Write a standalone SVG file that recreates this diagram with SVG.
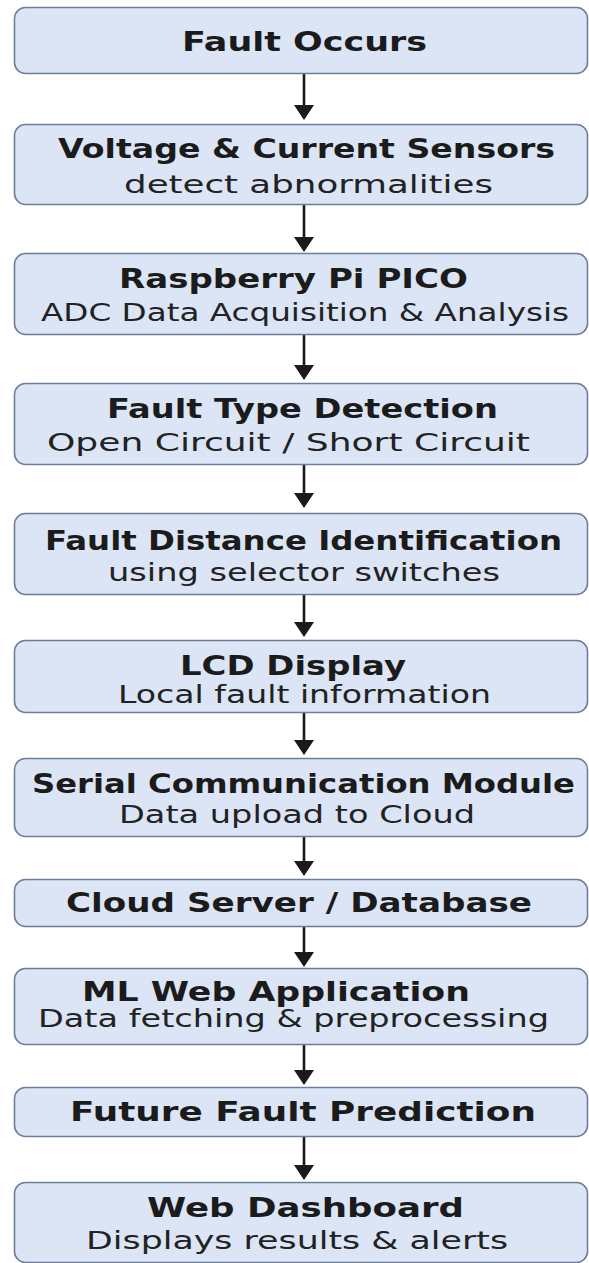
<svg xmlns="http://www.w3.org/2000/svg" width="589" height="1263" viewBox="0 0 589 1263">
  <style>
    .box { fill: #dbe5f5; stroke: #6e7e98; stroke-width: 1.6; }
    .title { font-family: "DejaVu Sans", "Liberation Sans", sans-serif; font-weight: bold; font-size: 27px; fill: #1b1b1b; }
    .sub { font-family: "DejaVu Sans", "Liberation Sans", sans-serif; font-size: 24px; fill: #222222; }
    .flow { stroke: #1a1a1a; stroke-width: 2.6; fill: none; marker-end: url(#head); }
  </style>
  <defs>
    <marker id="head" markerUnits="userSpaceOnUse" viewBox="0 0 15 20" refX="11" refY="10" markerWidth="15" markerHeight="20" orient="auto">
      <path d="M0,0 L15,10 L0,20 z" fill="#1a1a1a"/>
    </marker>
  </defs>
  <rect width="589" height="1263" fill="#ffffff"/>

  <g id="connectors">
    <line class="flow" x1="304" y1="74" x2="304" y2="116"/>
    <line class="flow" x1="304" y1="205" x2="304" y2="248"/>
    <line class="flow" x1="304" y1="335" x2="304" y2="376"/>
    <line class="flow" x1="304" y1="465" x2="304" y2="504"/>
    <line class="flow" x1="304" y1="595" x2="304" y2="633"/>
    <line class="flow" x1="304" y1="713" x2="304" y2="751"/>
    <line class="flow" x1="304" y1="837" x2="304" y2="872"/>
    <line class="flow" x1="304" y1="927" x2="304" y2="963"/>
    <line class="flow" x1="304" y1="1045" x2="304" y2="1081"/>
    <line class="flow" x1="304" y1="1137" x2="304" y2="1176"/>
  </g>

  <!-- labels use a 1.2x horizontal stretch; textLength pins each line's width -->
  <g id="fault-occurs">
    <rect class="box" x="14.5" y="7.5" width="573" height="66" rx="11"/>
    <text class="title" transform="matrix(1.2 0 0 1 182 0)" x="0" y="51" textLength="204.2" lengthAdjust="spacingAndGlyphs">Fault Occurs</text>
  </g>

  <g id="sensors">
    <rect class="box" x="14.5" y="124.5" width="573" height="80" rx="11"/>
    <text class="title" transform="matrix(1.2 0 0 1 58 0)" x="0" y="158" textLength="414.2" lengthAdjust="spacingAndGlyphs">Voltage &amp; Current Sensors</text>
    <text class="sub" transform="matrix(1.2 0 0 1 124 0)" x="0" y="193" textLength="307.5" lengthAdjust="spacingAndGlyphs">detect abnormalities</text>
  </g>

  <g id="pico">
    <rect class="box" x="14.5" y="253.5" width="573" height="81" rx="11"/>
    <text class="title" transform="matrix(1.2 0 0 1 119 0)" x="0" y="288" textLength="290.8" lengthAdjust="spacingAndGlyphs">Raspberry Pi PICO</text>
    <text class="sub" transform="matrix(1.2 0 0 1 41 0)" x="0" y="321" textLength="440" lengthAdjust="spacingAndGlyphs">ADC Data Acquisition &amp; Analysis</text>
  </g>

  <g id="fault-type">
    <rect class="box" x="14.5" y="383.5" width="573" height="81" rx="11"/>
    <text class="title" transform="matrix(1.2 0 0 1 107 0)" x="0" y="418" textLength="325.8" lengthAdjust="spacingAndGlyphs">Fault Type Detection</text>
    <text class="sub" transform="matrix(1.2 0 0 1 47 0)" x="0" y="451" textLength="402.5" lengthAdjust="spacingAndGlyphs">Open Circuit / Short Circuit</text>
  </g>

  <g id="fault-distance">
    <rect class="box" x="14.5" y="513.5" width="573" height="81" rx="11"/>
    <text class="title" transform="matrix(1.2 0 0 1 45 0)" x="0" y="550" textLength="430.8" lengthAdjust="spacingAndGlyphs">Fault Distance Identification</text>
    <text class="sub" transform="matrix(1.2 0 0 1 108 0)" x="0" y="581" textLength="326.7" lengthAdjust="spacingAndGlyphs">using selector switches</text>
  </g>

  <g id="lcd">
    <rect class="box" x="14.5" y="640.5" width="573" height="72" rx="11"/>
    <text class="title" transform="matrix(1.2 0 0 1 180 0)" x="0" y="675" textLength="188.3" lengthAdjust="spacingAndGlyphs">LCD Display</text>
    <text class="sub" transform="matrix(1.2 0 0 1 118 0)" x="0" y="703" textLength="310.8" lengthAdjust="spacingAndGlyphs">Local fault information</text>
  </g>

  <g id="serial">
    <rect class="box" x="14.5" y="758.5" width="573" height="78" rx="11"/>
    <text class="title" transform="matrix(1.2 0 0 1 32 0)" x="0" y="793" textLength="452.5" lengthAdjust="spacingAndGlyphs">Serial Communication Module</text>
    <text class="sub" transform="matrix(1.2 0 0 1 119 0)" x="0" y="823" textLength="296.7" lengthAdjust="spacingAndGlyphs">Data upload to Cloud</text>
  </g>

  <g id="cloud">
    <rect class="box" x="14.5" y="879.5" width="573" height="47" rx="11"/>
    <text class="title" transform="matrix(1.2 0 0 1 66 0)" x="0" y="912" textLength="388.3" lengthAdjust="spacingAndGlyphs">Cloud Server / Database</text>
  </g>

  <g id="ml-app">
    <rect class="box" x="14.5" y="968.5" width="573" height="76" rx="11"/>
    <text class="title" transform="matrix(1.2 0 0 1 82 0)" x="0" y="1001" textLength="323.3" lengthAdjust="spacingAndGlyphs">ML Web Application</text>
    <text class="sub" transform="matrix(1.2 0 0 1 38 0)" x="0" y="1027" textLength="425.8" lengthAdjust="spacingAndGlyphs">Data fetching &amp; preprocessing</text>
  </g>

  <g id="prediction">
    <rect class="box" x="14.5" y="1087.5" width="573" height="49" rx="11"/>
    <text class="title" transform="matrix(1.2 0 0 1 70 0)" x="0" y="1121" textLength="388.3" lengthAdjust="spacingAndGlyphs">Future Fault Prediction</text>
  </g>

  <g id="dashboard">
    <rect class="box" x="14.5" y="1182.5" width="573" height="80" rx="11"/>
    <text class="title" transform="matrix(1.2 0 0 1 147 0)" x="0" y="1217" textLength="264.2" lengthAdjust="spacingAndGlyphs">Web Dashboard</text>
    <text class="sub" transform="matrix(1.2 0 0 1 86 0)" x="0" y="1249" textLength="351.7" lengthAdjust="spacingAndGlyphs">Displays results &amp; alerts</text>
  </g>
</svg>
